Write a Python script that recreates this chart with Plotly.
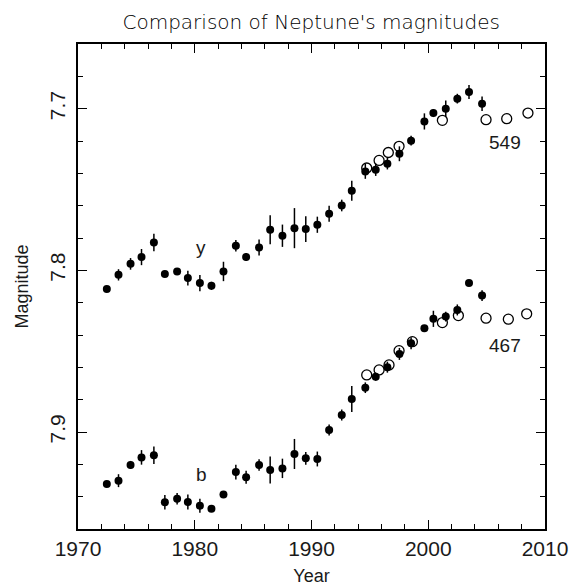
import plotly.graph_objects as go

# Filled points (both filters observed at the same epochs)
years = [1972.47, 1973.47, 1974.50, 1975.44, 1976.50, 1977.44, 1978.49, 1979.41,
         1980.44, 1981.43, 1982.46, 1983.52, 1984.40, 1985.51, 1986.46, 1987.51,
         1988.54, 1989.51, 1990.50, 1991.51, 1992.59, 1993.45, 1994.61, 1995.50,
         1996.50, 1997.53, 1998.53, 1999.67, 2000.44, 2001.50, 2002.49, 2003.49,
         2004.61]

y_mag = [7.8115, 7.8028, 7.7960, 7.7918, 7.7828, 7.8022, 7.8007, 7.8048,
         7.8079, 7.8096, 7.8007, 7.7848, 7.7918, 7.7859, 7.7749, 7.7786,
         7.7739, 7.7745, 7.7718, 7.7650, 7.7599, 7.7508, 7.7388, 7.7378,
         7.7340, 7.7279, 7.7198, 7.7079, 7.7027, 7.7000, 7.6938, 7.6897,
         7.6969]
y_err = [0.0015, 0.0035, 0.0036, 0.0050, 0.0054, 0.0015, 0.0020, 0.0046,
         0.0050, 0.0025, 0.0060, 0.0036, 0.0025, 0.0050, 0.0090, 0.0069,
         0.0124, 0.0080, 0.0050, 0.0050, 0.0036, 0.0062, 0.0046, 0.0038,
         0.0036, 0.0046, 0.0030, 0.0050, 0.0025, 0.0050, 0.0030, 0.0043,
         0.0045]

b_mag = [7.9322, 7.9301, 7.9204, 7.9157, 7.9144, 7.9435, 7.9413, 7.9433,
         7.9456, 7.9475, 7.9386, 7.9248, 7.9280, 7.9204, 7.9235, 7.9225,
         7.9136, 7.9163, 7.9167, 7.8988, 7.8895, 7.8796, 7.8726, 7.8658,
         7.8599, 7.8517, 7.8451, 7.8358, 7.8300, 7.8286, 7.8245, 7.8079,
         7.8156]
b_err = [0.0015, 0.0040, 0.0025, 0.0045, 0.0054, 0.0045, 0.0036, 0.0046,
         0.0043, 0.0020, 0.0015, 0.0046, 0.0040, 0.0035, 0.0083, 0.0060,
         0.0093, 0.0040, 0.0046, 0.0034, 0.0034, 0.0080, 0.0033, 0.0025,
         0.0034, 0.0037, 0.0037, 0.0020, 0.0050, 0.0030, 0.0034, 0.0015,
         0.0033]

# Open circles (comparison data)
y_open_years = [1994.73, 1995.79, 1996.58, 1997.50, 2001.21, 2004.95, 2006.72, 2008.54]
y_open_mag = [7.7367, 7.7320, 7.7271, 7.7233, 7.7072, 7.7068, 7.7062, 7.7027]

b_open_years = [1994.73, 1995.79, 1996.64, 1997.50, 1998.64, 2001.21, 2002.58,
                2004.95, 2006.86, 2008.43]
b_open_mag = [7.8647, 7.8616, 7.8585, 7.8497, 7.8441, 7.8323, 7.8280,
              7.8296, 7.8302, 7.8269]

labels = [("y", 1980.5, 7.786), ("b", 1980.6, 7.926),
          ("549", 2006.6, 7.7212), ("467", 2006.6, 7.8468)]

title_text = "Comparison of Neptune's magnitudes"
x_title = "Year"
y_title = "Magnitude"

FONT = "Liberation Sans"
TFONT = "DejaVu Sans"
INK = "#1a1a1a"

fig = go.Figure()

for mags, errs in ((y_mag, y_err), (b_mag, b_err)):
    fig.add_trace(go.Scatter(
        x=years, y=mags, mode="markers",
        marker=dict(color="black", size=8, symbol="circle"),
        error_y=dict(type="data", array=errs, visible=True, color="black",
                     thickness=1.5, width=0),
        showlegend=False, hoverinfo="skip"))

for xs, ys in ((y_open_years, y_open_mag), (b_open_years, b_open_mag)):
    fig.add_trace(go.Scatter(
        x=xs, y=ys, mode="markers",
        marker=dict(color="black", size=10, symbol="circle-open",
                    line=dict(color="black", width=1.3)),
        showlegend=False, hoverinfo="skip"))

for txt, lx, ly in labels:
    fig.add_annotation(x=lx, y=ly, text=txt, showarrow=False,
                       font=dict(family=FONT, size=19, color=INK),
                       xanchor="center", yanchor="middle")

fig.update_layout(
    width=571, height=586,
    margin=dict(l=78, r=26, t=44, b=57, autoexpand=False),
    paper_bgcolor="white", plot_bgcolor="white",
    title=dict(text=title_text, x=0.545, xanchor="center", y=0.962, yanchor="middle",
               font=dict(family=TFONT, size=20, color="#000000", weight=300)),
    font=dict(family=FONT, color=INK),
)

fig.update_xaxes(
    range=[1970, 2010], showgrid=False, zeroline=False, automargin=False,
    showline=True, linecolor="black", linewidth=1.5, mirror="ticks",
    ticks="inside", ticklen=9, tickwidth=1.2, tickcolor="black",
    tick0=1970, dtick=10,
    minor=dict(dtick=2, ticks="inside", ticklen=5, tickwidth=1.2, tickcolor="black"),
    tickfont=dict(family=FONT, size=21, color=INK),
    title=dict(text=x_title, font=dict(family=FONT, size=18, color=INK), standoff=10),
)

fig.update_yaxes(
    range=[7.96, 7.66], showgrid=False, zeroline=False, automargin=False,
    showline=True, linecolor="black", linewidth=1.5, mirror="ticks",
    ticks="inside", ticklen=9, tickwidth=1.2, tickcolor="black",
    tick0=7.7, dtick=0.1, tickformat=".1f", tickangle=-90,
    minor=dict(dtick=0.02, ticks="inside", ticklen=5, tickwidth=1.2, tickcolor="black"),
    tickfont=dict(family=FONT, size=21, color=INK),
    ticklabelstandoff=3,
    title=dict(text=y_title, font=dict(family=FONT, size=18, color=INK), standoff=13),
)

fig.write_html("out.html")
